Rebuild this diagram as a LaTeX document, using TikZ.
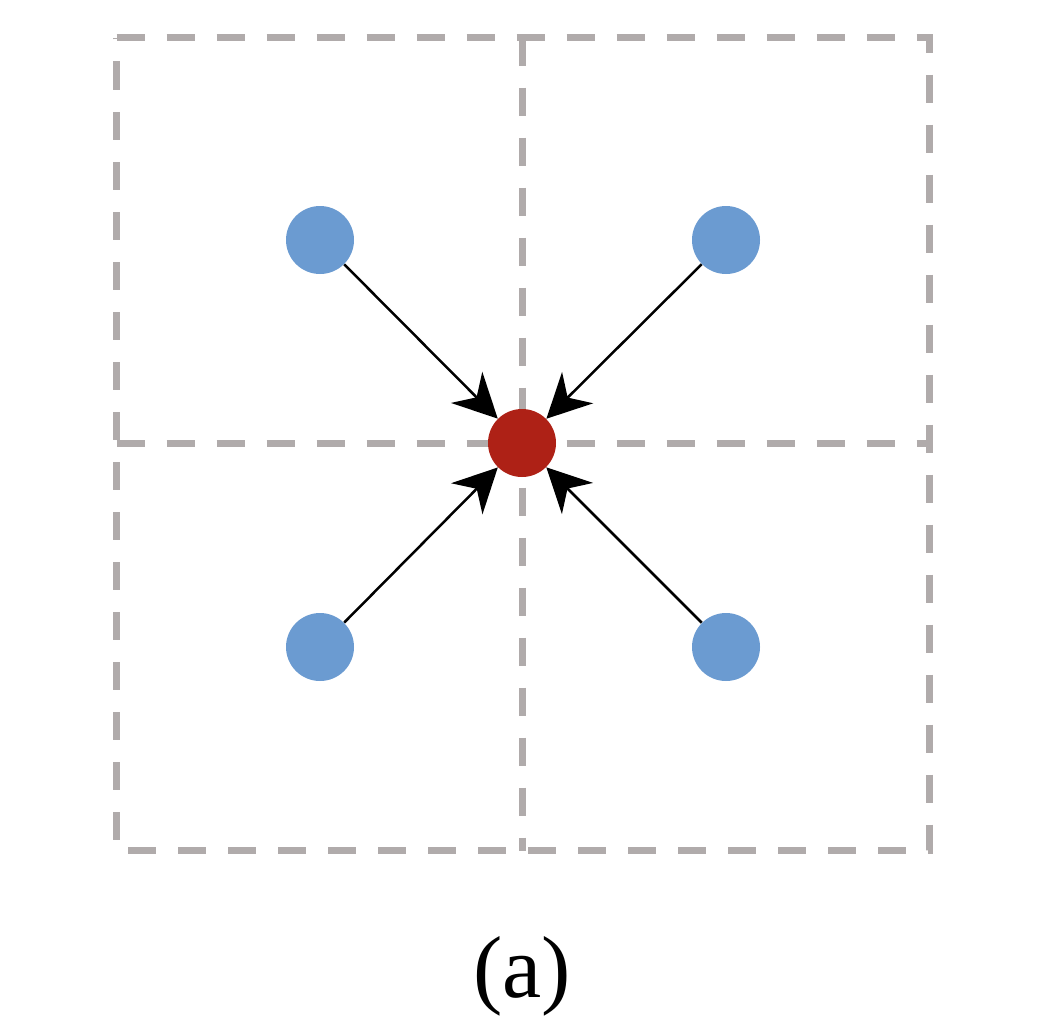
\documentclass[tikz,border=0pt]{standalone}
\usepackage{fontspec}
\setmainfont{Liberation Serif}
\usetikzlibrary{arrows.meta}
\definecolor{gridgray}{RGB}{176,171,171}
\definecolor{pointblue}{RGB}{107,155,209}
\definecolor{pointred}{RGB}{174,33,22}
\tikzset{
	gridline/.style={draw=gridgray, line width=3.5pt, dash pattern=on 14pt off 11pt},
	neighbour/.style={circle, fill=pointblue, inner sep=0pt, minimum size=34pt},
	target/.style={circle, fill=pointred, inner sep=0pt, minimum size=34pt},
	pull/.style={draw=black, line width=1.25pt, -{Stealth[length=22pt, width=22pt, inset=7pt]}}
}

\begin{document}
\begin{tikzpicture}[x=0.5pt, y=-0.5pt]
	\useasboundingbox (0,0) rectangle (1048,1028);
	% dashed cells
	\draw[gridline] (116.5,37.5) -- (929.5,37.5) -- (929.5,850.5) -- (116.5,850.5) -- cycle;
	\draw[gridline] (522,37.5) -- (522,850.5);
	\draw[gridline] (116.5,443.5) -- (929.5,443.5);
	% points
	\node[neighbour] (tl) at (320,240) {};
	\node[neighbour] (tr) at (726,240) {};
	\node[neighbour] (bl) at (320,647) {};
	\node[neighbour] (br) at (726,647) {};
	\node[target] (c) at (522,443) {};
	\draw[pull] (tl) -- (c);
	\draw[pull] (tr) -- (c);
	\draw[pull] (bl) -- (c);
	\draw[pull] (br) -- (c);
	\node (caption) at (522,976) {\fontsize{44}{50}\selectfont (a)};
\end{tikzpicture}
\end{document}
